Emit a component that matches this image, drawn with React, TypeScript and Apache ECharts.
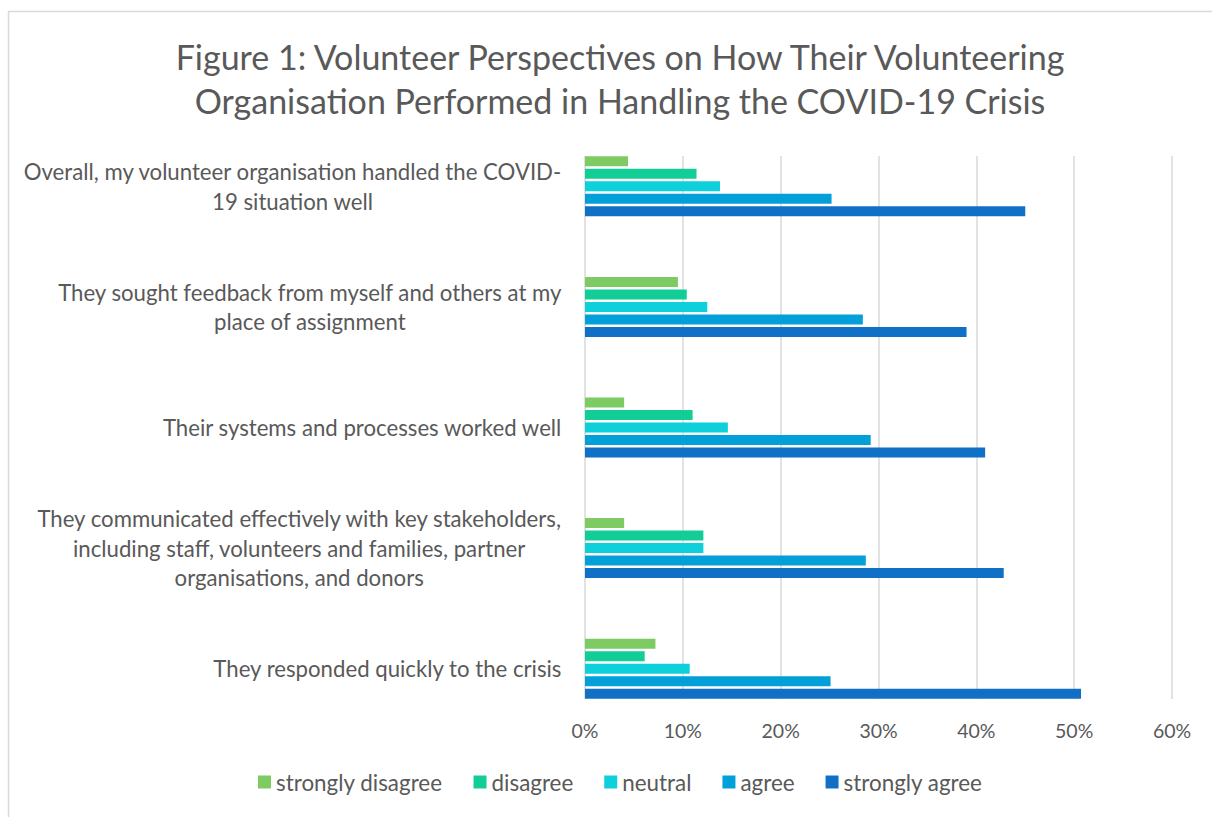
import React, { useEffect, useRef } from "react";
import * as echarts from "echarts";

const TITLE = "Figure 1: Volunteer Perspectives on How Their Volunteering\nOrganisation Performed in Handling the COVID-19 Crisis";

const categories = [
  "Overall, my volunteer organisation handled the COVID-\n19 situation well",
  "They sought feedback from myself and others at my\nplace of assignment",
  "Their systems and processes worked well",
  "They communicated effectively with key stakeholders,\nincluding staff, volunteers and families, partner\norganisations, and donors",
  "They responded quickly to the crisis",
];

const seriesNames = ["strongly disagree", "disagree", "neutral", "agree", "strongly agree"];
const stronglyDisagree = [4.4, 9.5, 4.0, 4.0, 7.2];
const disagree = [11.4, 10.4, 11.0, 12.1, 6.1];
const neutral = [13.8, 12.5, 14.6, 12.1, 10.7];
const agree = [25.2, 28.4, 29.2, 28.7, 25.1];
const stronglyAgree = [45.0, 39.0, 40.9, 42.8, 50.7];
const seriesValues = [stronglyDisagree, disagree, neutral, agree, stronglyAgree];
const colors = ["#7DCB62", "#12CE96", "#0DD0DA", "#029FD8", "#0F70C6"];

const xTicks = { min: 0, max: 60, interval: 10 };

const FONT = "Lato";
const TEXT = "#595959";

export default function App() {
  const ref = useRef<HTMLDivElement>(null);
  useEffect(() => {
    if (!ref.current) return;
    const chart = echarts.init(ref.current, undefined, { renderer: "svg" });
    chart.setOption({
      animation: false,
      backgroundColor: "#ffffff",
      title: {
        text: TITLE,
        left: 615,
        textAlign: "center",
        top: 29,
        textStyle: { fontFamily: FONT, fontSize: 34, fontWeight: "normal", color: TEXT, lineHeight: 44 },
      },
      graphic: [
        { type: "line", shape: { x1: 8.5, y1: 11, x2: 8.5, y2: 817 }, style: { stroke: "#D9D9D9", lineWidth: 1.5 } },
        { type: "line", shape: { x1: 8, y1: 11.5, x2: 1212, y2: 11.5 }, style: { stroke: "#D9D9D9", lineWidth: 1.5 } },
      ],
      legend: {
        data: seriesNames,
        left: 253,
        top: 766,
        icon: "rect",
        itemWidth: 13,
        itemHeight: 13,
        itemGap: 31,
        textStyle: { fontFamily: FONT, fontSize: 22.4, color: TEXT },
      },
      grid: [
        { left: 585, width: 587, top: 156, height: 543 },
        { left: 585, width: 587, top: 126, height: 603 },
      ],
      xAxis: [
        {
          gridIndex: 0,
          type: "value",
          min: xTicks.min,
          max: xTicks.max,
          interval: xTicks.interval,
          axisLine: { show: false },
          axisTick: { show: false },
          splitLine: { show: true, lineStyle: { color: "#D9D9D9", width: 1.5 } },
          axisLabel: {
            formatter: "{value}%",
            color: TEXT,
            fontFamily: FONT,
            fontSize: 19.5,
            margin: 21,
          },
        },
        {
          gridIndex: 1,
          type: "value",
          min: xTicks.min,
          max: xTicks.max,
          interval: xTicks.interval,
          show: false,
        },
      ],
      yAxis: [
        { gridIndex: 0, type: "value", show: false },
        {
          gridIndex: 1,
          type: "category",
          inverse: true,
          data: categories,
          axisLine: { show: false },
          axisTick: { show: false },
          splitLine: { show: false },
          axisLabel: {
            margin: 23,
            formatter: (v: string) => v.split("\n").map((l) => `{c|${l}}`).join("\n"),
            rich: {
              c: { align: "center", fontFamily: FONT, fontSize: 22.2, color: TEXT, lineHeight: 29.5 },
            },
          },
        },
      ],
      series: seriesValues.map((vals, i) => ({
        type: "bar",
        name: seriesNames[i],
        xAxisIndex: 1,
        yAxisIndex: 1,
        data: vals,
        barWidth: 10,
        barGap: "25%",
        itemStyle: { color: colors[i] },
      })),
    });
    return () => chart.dispose();
  }, []);
  return (
    <div
      ref={ref}
      style={{ position: "fixed", left: 0, top: 0, width: 1212, height: 817 }}
    />
  );
}
